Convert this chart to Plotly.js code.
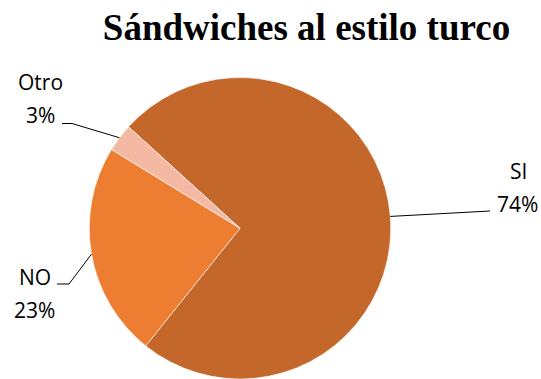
<!DOCTYPE html>
<html>
<head>
<meta charset="utf-8">
<script src="https://cdn.plot.ly/plotly-3.0.1.min.js"></script>
<style>html,body{margin:0;padding:0;background:#fff;overflow:hidden;}</style>
</head>
<body>
<div id="chart" style="width:541px;height:379px;"></div>
<script>
// Data
const categories = ["SI", "NO", "Otro"];
const values = [74, 23, 3];
const percentLabels = ["74%", "23%", "3%"];
const chartTitle = "Sándwiches al estilo turco";

// Styling
const colors = ["#C4672A", "#ED7D31", "#F5B9A3"];
const W = 541, H = 379;
const startAngle = 312.3;            // degrees clockwise from 12 o'clock
const domX = [89 / W, 391 / W];
const domY = [0, 301.5 / H];
// label placement (pixels)
const labelPos = {
  "SI":   {nx: 518, ny: 171, px: 517, py: 204, lx0: 490, ly0: 211, lx1: 490},
  "NO":   {nx: 35,  ny: 277, px: 34,  py: 310, lx0: 57,  ly0: 284, lx1: 69},
  "Otro": {nx: 40,  ny: 82,  px: 40,  py: 115, lx0: 62,  ly0: 123.5, lx1: 72}
};

// pie geometry in pixels (derived from domain)
const cx = (domX[0] + domX[1]) / 2 * W;
const cy = H - (domY[0] + domY[1]) / 2 * H;
const r = Math.min((domX[1] - domX[0]) * W, (domY[1] - domY[0]) * H) / 2;
const total = values.reduce((a, b) => a + b, 0);

const toPX = x => x / W;
const toPY = y => (H - y) / H;

const annotations = [];
const shapes = [];
let cum = 0;
categories.forEach((c, i) => {
  const mid = startAngle + (cum + values[i] / 2) / total * 360;
  cum += values[i];
  const a = mid * Math.PI / 180;
  const ex = cx + r * Math.sin(a);
  const ey = cy - r * Math.cos(a);
  const p = labelPos[c];
  const f = {family: "Open Sans, Noto Sans, sans-serif", size: 21, color: "#000"};
  annotations.push({x: toPX(p.nx), y: toPY(p.ny), xref: "paper", yref: "paper", text: c,
    showarrow: false, xanchor: "center", yanchor: "middle", font: f});
  annotations.push({x: toPX(p.px), y: toPY(p.py), xref: "paper", yref: "paper", text: percentLabels[i],
    showarrow: false, xanchor: "center", yanchor: "middle", font: f});
  shapes.push({type: "path", xref: "paper", yref: "paper",
    path: `M ${toPX(p.lx0)} ${toPY(p.ly0)} L ${toPX(p.lx1)} ${toPY(p.ly0)} L ${toPX(ex)} ${toPY(ey)}`,
    line: {color: "#000", width: 1}});
});

const trace = {
  type: "pie",
  labels: categories,
  values: values,
  sort: false,
  direction: "clockwise",
  rotation: startAngle,
  marker: {colors: colors, line: {color: "#ffffff", width: 0.6}},
  textinfo: "none",
  hoverinfo: "label+percent",
  domain: {x: domX, y: domY},
  showlegend: false
};

const layout = {
  width: W, height: H,
  margin: {l: 0, r: 0, t: 0, b: 0, pad: 0},
  paper_bgcolor: "#fff",
  showlegend: false,
  title: {
    text: "<b>" + chartTitle + "</b>",
    font: {family: "Liberation Serif, Times New Roman, serif", size: 37, color: "#000"},
    x: 306.5 / W, xanchor: "center", xref: "paper",
    y: 1 - 27 / H, yanchor: "middle", yref: "container"
  },
  annotations: annotations,
  shapes: shapes
};

Plotly.newPlot("chart", [trace], layout, {displayModeBar: false, staticPlot: true});
</script>
</body>
</html>
